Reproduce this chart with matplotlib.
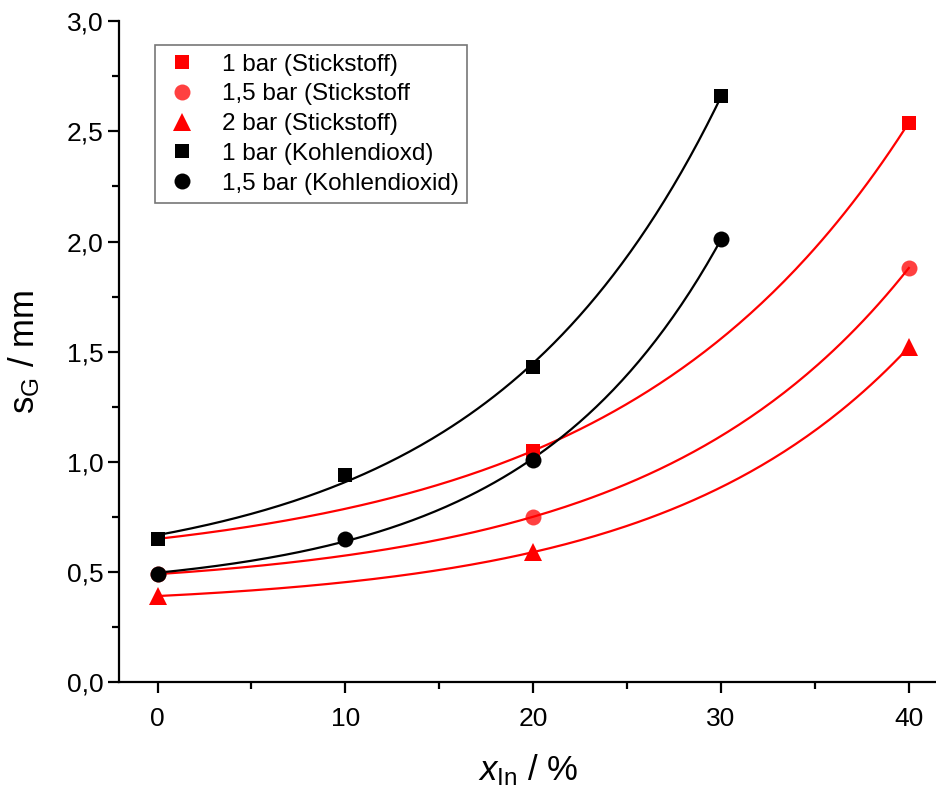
import numpy as np
import matplotlib
matplotlib.use("Agg")
import matplotlib.pyplot as plt
from matplotlib.ticker import MultipleLocator, FuncFormatter

plt.rcParams['font.family'] = ['Liberation Sans', 'DejaVu Sans']
plt.rcParams['mathtext.fontset'] = 'custom'
plt.rcParams['mathtext.rm'] = 'Liberation Sans'
plt.rcParams['mathtext.it'] = 'Liberation Sans:italic'

# data
x_n2 = [0, 20, 40]
n2_1bar = [0.65, 1.05, 2.54]
n2_15bar = [0.49, 0.75, 1.88]
n2_2bar = [0.39, 0.59, 1.52]

x_co2 = [0, 10, 20, 30]
co2_1bar = [0.65, 0.94, 1.43, 2.66]
co2_15bar = [0.49, 0.65, 1.01, 2.01]

labels = ['1 bar (Stickstoff)', '1,5 bar (Stickstoff', '2 bar (Stickstoff)',
          '1 bar (Kohlendioxd)', '1,5 bar (Kohlendioxid)']


def expgrow_fit(x, y):
    # y = y0 + A*exp(x/t), grid search on t, linear least squares for y0, A
    x = np.asarray(x, float)
    y = np.asarray(y, float)
    best = None
    for t in np.linspace(2, 200, 4000):
        M = np.column_stack([np.ones_like(x), np.exp(x / t)])
        coef, *_ = np.linalg.lstsq(M, y, rcond=None)
        err = np.sum((M @ coef - y) ** 2)
        if best is None or err < best[0]:
            best = (err, t, coef)
    _, t, coef = best
    xf = np.linspace(x.min(), x.max(), 200)
    return xf, coef[0] + coef[1] * np.exp(xf / t)


fig = plt.figure(figsize=(9.37, 7.89), dpi=100)
ax = fig.add_axes([0.127, 0.1356, 0.873, 0.8374])

series = [
    (x_n2, n2_1bar, 'red', 's', 1.0),
    (x_n2, n2_15bar, 'red', 'o', 0.75),
    (x_n2, n2_2bar, 'red', '^', 1.0),
    (x_co2, co2_1bar, 'black', 's', 1.0),
    (x_co2, co2_15bar, 'black', 'o', 1.0),
]

for (xs, ys, c, m, a), lab in zip(series, labels):
    xf, yf = expgrow_fit(xs, ys)
    ax.plot(xf, yf, color=c, lw=1.6, zorder=2)
    ms = {'s': 10.5, 'o': 11.5, '^': 12.5}[m]
    ax.plot(xs, ys, ls='none', marker=m, ms=ms, color=c, alpha=a,
            markeredgewidth=0, label=lab, zorder=3)

ax.set_xlim(-2.05, 41.5)
ax.set_ylim(0, 3.0)
ax.spines['top'].set_visible(False)
ax.spines['right'].set_visible(False)
ax.spines['left'].set_linewidth(1.6)
ax.spines['bottom'].set_linewidth(1.6)

ax.xaxis.set_major_locator(MultipleLocator(10))
ax.xaxis.set_minor_locator(MultipleLocator(5))
ax.yaxis.set_major_locator(MultipleLocator(0.5))
ax.yaxis.set_minor_locator(MultipleLocator(0.25))
ax.yaxis.set_major_formatter(FuncFormatter(lambda v, p: ('%.1f' % v).replace('.', ',')))
ax.tick_params(which='major', direction='out', length=8, width=1.6)
ax.tick_params(which='minor', direction='out', length=5, width=1.6)
ax.tick_params(axis='y', pad=3, labelsize=19)
ax.tick_params(axis='x', pad=10, labelsize=19)

ax.set_xlabel(r'$x_{\mathrm{In}}$ / %', fontsize=25, labelpad=15)
ax.set_ylabel(r'$\mathrm{s}_{\mathrm{G}}$ / mm', fontsize=25, labelpad=18)

leg = ax.legend(loc='upper left', bbox_to_anchor=(0.044, 0.964), fontsize=17.5,
                frameon=True, fancybox=False, edgecolor='#555555',
                handletextpad=0.9, labelspacing=0.32, borderpad=0.35,
                borderaxespad=0, handlelength=1.5)
leg.get_frame().set_linewidth(1.2)

fig.savefig('out.png', dpi=100)
